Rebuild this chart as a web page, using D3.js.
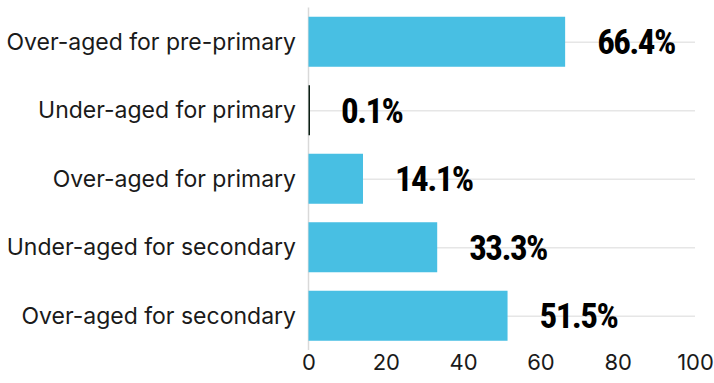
<!DOCTYPE html>
<html>
<head>
<meta charset="utf-8">
<script src="https://cdn.jsdelivr.net/npm/d3@7"></script>
<style>
  html, body { margin: 0; padding: 0; background: #fff; }
  svg { display: block; }
</style>
</head>
<body>
<svg id="chart" width="714" height="383"></svg>
<script>
const categories = [
  "Over-aged for pre-primary",
  "Under-aged for primary",
  "Over-aged for primary",
  "Under-aged for secondary",
  "Over-aged for secondary"
];
const values = [66.4, 0.1, 14.1, 33.3, 51.5];
const valueLabels = ["66.4%", "0.1%", "14.1%", "33.3%", "51.5%"];
const xTicks = [0, 20, 40, 60, 80, 100];

const svg = d3.select("#chart");
const W = 714, H = 383;
const margin = {left: 308.5, right: 19, top: 7.5, bottom: 33};

const x = d3.scaleLinear().domain([0, 100]).range([margin.left, W - margin.right]);
const y = d3.scaleBand().domain(categories).range([margin.top, H - margin.bottom]).paddingInner(0.27).paddingOuter(0.135);

const barColor = "#48bfe3";
const gridColor = "#e6e6e6";

svg.append("g").selectAll("line").data(categories).join("line")
  .attr("x1", x(0)).attr("x2", x(100))
  .attr("y1", d => y(d) + y.bandwidth() / 2 + 0.5)
  .attr("y2", d => y(d) + y.bandwidth() / 2 + 0.5)
  .attr("stroke", gridColor).attr("stroke-width", 1.5);

svg.append("line")
  .attr("x1", x(0)).attr("x2", x(0))
  .attr("y1", margin.top).attr("y2", H - margin.bottom)
  .attr("stroke", "#d9d9d9").attr("stroke-width", 1.5);

svg.append("g").selectAll("rect").data(values).join("rect")
  .attr("x", x(0))
  .attr("y", (d, i) => y(categories[i]))
  .attr("height", y.bandwidth())
  .attr("width", d => Math.max(x(d) - x(0), 1.5))
  .attr("fill", d => (x(d) - x(0) < 1.5 ? "#0b1f14" : barColor));

svg.append("g").selectAll("text").data(values).join("text")
  .attr("x", d => x(d) + 32)
  .attr("y", (d, i) => y(categories[i]) + y.bandwidth() / 2)
  .attr("dy", "0.36em")
  .attr("font-family", "'Liberation Sans Narrow', 'Roboto Condensed', 'DejaVu Sans Condensed', sans-serif")
  .attr("font-weight", "bold")
  .attr("font-size", 35)
  .attr("letter-spacing", -1.6)
  .attr("fill", "#000")
  .text((d, i) => valueLabels[i]);

svg.append("g").selectAll("text").data(categories).join("text")
  .attr("x", x(0) - 12.5)
  .attr("y", d => y(d) + y.bandwidth() / 2)
  .attr("dy", "0.35em")
  .attr("text-anchor", "end")
  .attr("font-family", "Inter, 'Liberation Sans', sans-serif")
  .attr("font-size", 23)
  .attr("fill", "#1a1a1a")
  .text(d => d);

const xAxis = d3.axisBottom(x).tickValues(xTicks).tickSize(0).tickPadding(0);
const gx = svg.append("g").attr("transform", `translate(0, ${H - 21})`).call(xAxis);
gx.select(".domain").remove();
gx.selectAll("text")
  .attr("y", 0).attr("dy", "0.35em")
  .attr("font-family", "Inter, 'Liberation Sans', sans-serif")
  .attr("font-size", 22)
  .attr("fill", "#1a1a1a");
</script>
</body>
</html>
